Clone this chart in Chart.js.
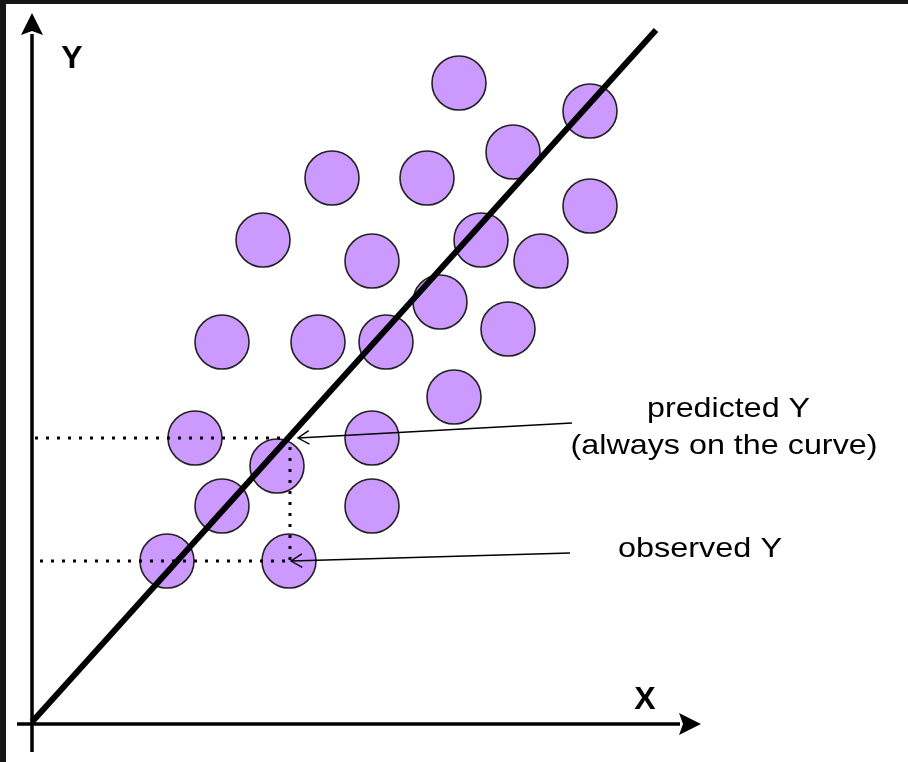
<!DOCTYPE html>
<html lang="en">
<head>
<meta charset="UTF-8">
<title>Regression - predicted vs observed</title>
<script src="https://cdn.jsdelivr.net/npm/chart.js"></script>
<style>
    html, body { margin: 0; padding: 0; background: #161616; }
    .boxGrafico { position: absolute; left: 6px; top: 4px; width: 902px; height: 758px; background: #ffffff; }
</style>
</head>
<body>
<div class="boxGrafico">
    <canvas id="myChart" width="902" height="758"></canvas>
</div>

<script>
    // data units: origin at the axes crossing, x right, y up
    const pontosX = [427, 558, 481, 300, 395, 558, 231, 449, 340, 509, 408, 190, 286, 354, 476, 422, 163, 340, 245, 190, 340, 135, 257];
    const pontosY = [641, 613, 572, 546, 546, 518, 484, 484, 463, 463, 422, 382, 382, 382, 395, 327, 286, 286, 258, 218, 218, 163, 163];

    const retaX = [0, 624];
    const retaY = [2, 694];

    const eixoX = [-15, 648];
    const eixoY = [-28, 690];

    // predicted / observed points for the dotted guides
    const previstoX = 258;
    const previstoY = 286;
    const observadoY = 163;
    const guiaInicioX = [3, 8];

    const setaPrevista = [[540, 301], [266, 286]];
    const setaObservada = [[538, 171], [259, 163]];

    const ctx = document.getElementById('myChart');

    const desenhoExtra = {
        id: 'desenhoExtra',
        afterDatasetsDraw(chart) {
            const c = chart.ctx;
            const sx = chart.scales.x, sy = chart.scales.y;
            const px = v => sx.getPixelForValue(v);
            const py = v => sy.getPixelForValue(v);

            // axis arrow heads (filled)
            c.save();
            c.fillStyle = '#000';
            c.beginPath();
            c.moveTo(px(0), py(eixoY[1]) - 21);
            c.lineTo(px(0) - 11, py(eixoY[1]) + 1);
            c.lineTo(px(0), py(eixoY[1]) - 3);
            c.lineTo(px(0) + 11, py(eixoY[1]) + 1);
            c.closePath();
            c.fill();
            c.beginPath();
            c.moveTo(px(eixoX[1]) + 21, py(0));
            c.lineTo(px(eixoX[1]) - 1, py(0) - 11);
            c.lineTo(px(eixoX[1]) + 3, py(0));
            c.lineTo(px(eixoX[1]) - 1, py(0) + 11);
            c.closePath();
            c.fill();

            // open arrow heads for the annotations
            c.strokeStyle = '#000';
            c.lineWidth = 1.4;
            [setaPrevista, setaObservada].forEach(s => {
                const x1 = px(s[0][0]), y1 = py(s[0][1]);
                const x2 = px(s[1][0]), y2 = py(s[1][1]);
                const a = Math.atan2(y2 - y1, x2 - x1);
                c.beginPath();
                c.moveTo(x2 - 13 * Math.cos(a - 0.55), y2 - 13 * Math.sin(a - 0.55));
                c.lineTo(x2, y2);
                c.lineTo(x2 - 13 * Math.cos(a + 0.55), y2 - 13 * Math.sin(a + 0.55));
                c.stroke();
            });

            // texts
            c.fillStyle = '#000';
            c.textAlign = 'center';
            c.textBaseline = 'alphabetic';
            c.font = 'bold 32px "Liberation Sans", Arial, sans-serif';
            c.fillText('Y', px(40), py(656));
            c.fillText('X', px(613), py(15));

            c.font = '28px "Liberation Sans", Arial, sans-serif';
            const textos = [
                ['predicted Y', 728.5 - 32, 724 - 417, 163],
                ['(always on the curve)', 724 - 32, 724 - 454, 307],
                ['observed Y', 700 - 32, 724 - 557, 164]
            ];
            textos.forEach(t => {
                const w = c.measureText(t[0]).width;
                c.save();
                c.translate(px(t[1]), py(t[2]));
                c.scale(t[3] / w, 1);
                c.fillText(t[0], 0, 0);
                c.restore();
            });
            c.restore();
        }
    };

    const myChart = new Chart(ctx, {
        type: 'scatter',
        data: {
            datasets: [
                {
                    label: 'reta',
                    type: 'line',
                    data: retaX.map((x, i) => ({ x: x, y: retaY[i] })),
                    borderColor: '#000',
                    borderWidth: 6,
                    pointRadius: 0,
                    order: 1
                },
                {
                    label: 'guia previsto',
                    type: 'line',
                    data: [{ x: guiaInicioX[0], y: previstoY }, { x: previstoX, y: previstoY }, { x: previstoX, y: observadoY }],
                    borderColor: '#000',
                    borderWidth: 3,
                    borderDash: [3, 8],
                    pointRadius: 0,
                    order: 2
                },
                {
                    label: 'guia observado',
                    type: 'line',
                    data: [{ x: guiaInicioX[1], y: observadoY }, { x: previstoX, y: observadoY }],
                    borderColor: '#000',
                    borderWidth: 3,
                    borderDash: [3, 8],
                    pointRadius: 0,
                    order: 2
                },
                {
                    label: 'seta prevista',
                    type: 'line',
                    data: setaPrevista.map(p => ({ x: p[0], y: p[1] })),
                    borderColor: '#000',
                    borderWidth: 1.4,
                    pointRadius: 0,
                    order: 2
                },
                {
                    label: 'seta observada',
                    type: 'line',
                    data: setaObservada.map(p => ({ x: p[0], y: p[1] })),
                    borderColor: '#000',
                    borderWidth: 1.4,
                    pointRadius: 0,
                    order: 2
                },
                {
                    label: 'eixo x',
                    type: 'line',
                    data: eixoX.map(x => ({ x: x, y: 0 })),
                    borderColor: '#000',
                    borderWidth: 3.5,
                    pointRadius: 0,
                    order: 3
                },
                {
                    label: 'eixo y',
                    type: 'line',
                    data: eixoY.map(y => ({ x: 0, y: y })),
                    borderColor: '#000',
                    borderWidth: 3.5,
                    pointRadius: 0,
                    order: 3
                },
                {
                    label: 'pontos',
                    data: pontosX.map((x, i) => ({ x: x, y: pontosY[i] })),
                    backgroundColor: '#cc99ff',
                    borderColor: '#222222',
                    borderWidth: 1.6,
                    pointRadius: 27,
                    pointHoverRadius: 27,
                    order: 10
                }
            ]
        },
        options: {
            responsive: false,
            animation: false,
            layout: { padding: 0, autoPadding: false },
            scales: {
                x: { type: 'linear', min: -26, max: 876, display: false },
                y: { type: 'linear', min: -38, max: 720, display: false }
            },
            plugins: {
                legend: { display: false },
                tooltip: { enabled: false }
            }
        },
        plugins: [desenhoExtra]
    });
</script>
</body>
</html>
